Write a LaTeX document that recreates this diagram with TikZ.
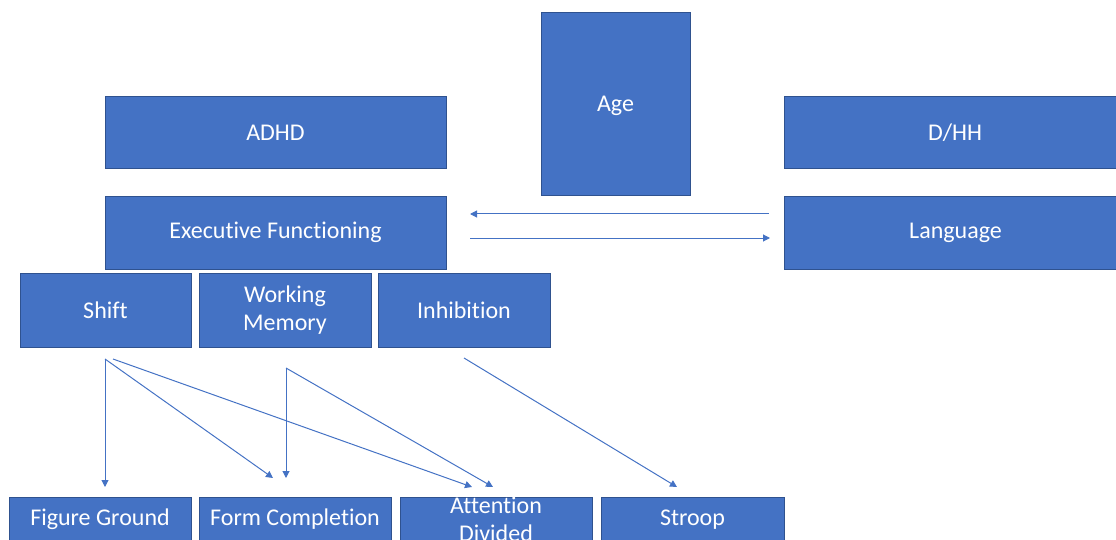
\documentclass[tikz,border=0pt]{standalone}
\usepackage{fontspec}
\setmainfont{Carlito}[Ligatures={NoCommon}]
\usetikzlibrary{arrows.meta}
\definecolor{boxblue}{HTML}{4472C4}
\definecolor{boxedge}{HTML}{2F528F}
\tikzset{
  box/.style={rectangle, fill=boxblue, draw=boxedge, line width=0.8pt, text=white,
    font=\fontsize{24}{28}\selectfont, align=center, inner sep=0pt, anchor=center},
  conn/.style={draw=boxblue, line width=1pt, -{Triangle[width=7pt,length=7pt]}}
}
\begin{document}
\begin{tikzpicture}[x=1pt,y=-1pt]
\useasboundingbox (0,0) rectangle (1116,540);
\clip (0,0) rectangle (1116,540);
\node[box, minimum width=149pt, minimum height=183pt] (age) at (615.5,103.5) {};
\node[text=white, font=\fontsize{24}{28}\selectfont] (agelabel) at (615.5,106) {Age};
\node[box, minimum width=341pt, minimum height=72pt] (adhd) at (275.5,132.5) {ADHD};
\node[box, minimum width=342pt, minimum height=72pt] (dhh) at (955,132.5) {D/HH};
\node[box, minimum width=341pt, minimum height=73pt] (ef) at (275.5,232.5) {Executive Functioning};
\node[box, minimum width=342pt, minimum height=73pt] (lang) at (955.5,232.5) {Language};
\node[box, minimum width=171pt, minimum height=74pt] (shift) at (105.5,310.5) {Shift};
\node[box, minimum width=172pt, minimum height=74pt] (wm) at (285,310.5) {Working\\Memory};
\node[box, minimum width=172pt, minimum height=74pt] (inh) at (464,310.5) {Inhibition};
\node[box, minimum width=182pt, minimum height=44pt] (fg) at (100,519.5) {Figure Ground};
\node[box, minimum width=192pt, minimum height=44pt] (fc) at (295,519.5) {Form Completion};
\node[box, minimum width=192pt, minimum height=44pt] (ad) at (496,519.5) {Attention\\Divided};
\node[box, minimum width=183pt, minimum height=44pt] (st) at (692.5,519.5) {Stroop};
% free-end coordinates
\coordinate (l1) at (769,214);
\coordinate (l2) at (470,214);
\coordinate (r1) at (470,238);
\coordinate (r2) at (770,238);
\coordinate (s0) at (105,359);
\coordinate (s0b) at (113,359);
\coordinate (fgT) at (105,487);
\coordinate (fcT1) at (273,478);
\coordinate (adT1) at (472,487);
\coordinate (w0) at (286,368);
\coordinate (fcT2) at (286,478);
\coordinate (adT2) at (493,487);
\coordinate (i0) at (464,358);
\coordinate (stT) at (677,487);
\draw[conn] (l1) -- (l2);
\draw[conn] (r1) -- (r2);
\draw[conn] (s0) -- (fgT);
\draw[conn] (s0) -- (fcT1);
\draw[conn] (s0b) -- (adT1);
\draw[conn] (w0) -- (fcT2);
\draw[conn] (w0) -- (adT2);
\draw[conn] (i0) -- (stT);
\end{tikzpicture}
\end{document}
